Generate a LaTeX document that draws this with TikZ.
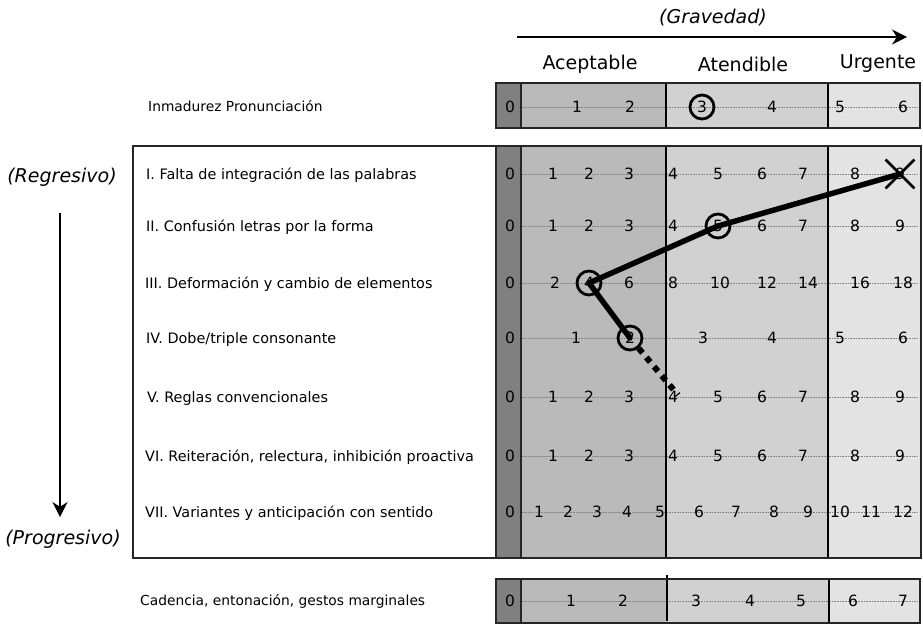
\documentclass[tikz,border=0pt]{standalone}
\usepackage{fontspec}
\setmainfont{DejaVu Sans}
\usetikzlibrary{arrows.meta,shapes.misc}

\definecolor{zerocol}{gray}{0.50}
\definecolor{okaycol}{gray}{0.73}
\definecolor{watchcol}{gray}{0.82}
\definecolor{urgentcol}{gray}{0.89}

\newcommand{\shadebar}[3]{%
  \fill[okaycol] (521,#1) rectangle (666,#2);
  \fill[watchcol] (666,#1) rectangle (828,#2);
  \fill[urgentcol] (828,#1) rectangle (#3,#2);
  \fill[zerocol] (496,#1) rectangle (521,#2);
}

\begin{document}
\begin{tikzpicture}[x=1pt,y=-1pt]
\tikzset{every node/.style={inner sep=1pt,font=\fontsize{15.5}{17}\selectfont}}
\tikzset{head/.style={font=\fontsize{19}{22}\selectfont}}
\tikzset{side/.style={font=\fontsize{19}{22}\selectfont\itshape}}
\tikzset{rowlabel/.style={anchor=west,text height=10pt,text depth=3pt,font=\fontsize{14.4}{16}\selectfont}}
\tikzset{barlabel/.style={rowlabel,font=\fontsize{13.8}{16}\selectfont}}
\tikzset{grid line/.style={densely dotted,black!50,line width=.6pt}}
\tikzset{frame/.style={draw=black!85,line width=1.5pt}}
\tikzset{divider/.style={draw=black,line width=1.2pt}}
\tikzset{hit/.style={circle,draw,line width=2.8pt,minimum size=24pt,inner sep=0pt}}
\tikzset{worst/.style={cross out,draw,line width=2.8pt,minimum size=26pt,inner sep=0pt}}
\tikzset{trend/.style={line width=5.5pt,line join=round,line cap=round}}
\tikzset{trend dots/.style={line width=6pt,dash pattern=on 6pt off 6pt}}
\tikzset{big arrow/.style={line width=1.5pt,-{Stealth[length=15pt,width=15pt]}}}

\useasboundingbox (0,0) rectangle (923,624);

% headings
\node[side] (grav) at (713,18) {(Gravedad)};
\coordinate (g1) at (517,37);
\coordinate (g2) at (907,37);
\draw[big arrow] (g1) -- (g2);
\node[head] (acep) at (590,64) {Aceptable};
\node[head] (aten) at (743,64) {Atendible};
\node[head] (urg) at (878,64) {Urgente};

\node[side] (reg) at (62,177) {(Regresivo)};
\node[side] (prog) at (63,539) {(Progresivo)};
\coordinate (v1) at (60,213);
\coordinate (v2) at (60,517);
\draw[big arrow] (v1) -- (v2);

% top bar
\shadebar{83}{128}{920}
\draw[grid line] (520,107) -- (918,107);
\draw[divider] (666,83) -- (666,128);
\draw[divider] (828,83) -- (828,128);
\draw[frame] (496,83) rectangle (920,128);
\draw[frame] (521,83) -- (521,128);
\node[barlabel] (inm) at (147,108) {Inmadurez Pronunciación};
\foreach \x/\n in {510/0,577/1,630/2,702/3,772/4,840/5,903/6}
  \node (t-\n) at (\x,107) {\n};

% main bar
\shadebar{146}{558}{921}
\foreach \y in {174,226,283,338,397,456,512}
  \draw[grid line] (520,\y) -- (918,\y);
\draw[divider] (666,146) -- (666,558);
\draw[divider] (828,146) -- (828,558);
\draw[frame] (133,146) rectangle (921,558);
\draw[frame] (496,146) -- (496,558);
\draw[frame] (521,146) -- (521,558);

\node[rowlabel] (l1) at (145,176) {I. Falta de integración de las palabras};
\node[rowlabel] (l2) at (145,228) {II. Confusión letras por la forma};
\node[rowlabel] (l3) at (144,285) {III. Deformación y cambio de elementos};
\node[rowlabel] (l4) at (145,340) {IV. Dobe/triple consonante};
\node[rowlabel] (l5) at (146,399) {V. Reglas convencionales};
\node[rowlabel] (l6) at (144,458) {VI. Reiteración, relectura, inhibición proactiva};
\node[rowlabel] (l7) at (144,514) {VII. Variantes y anticipación con sentido};

\foreach \x/\n in {510/0,553/1,589/2,629/3,673/4,718/5,762/6,803/7,855/8,900/9}{
  \node (a-\n) at (\x,174) {\n};
  \node (b-\n) at (\x,226) {\n};
  \node (e-\n) at (\x,397) {\n};
  \node (f-\n) at (\x,456) {\n};
}
\foreach \x/\n in {510/0,555/2,589/4,629/6,673/8,720/10,767/12,808/14,860/16,903/18}
  \node (c-\n) at (\x,283) {\n};
\foreach \x/\n in {510/0,576/1,630/2,703/3,772/4,840/5,903/6}
  \node (d-\n) at (\x,338) {\n};
\foreach \x/\n in {510/0,539/1,568/2,597/3,627/4,660/5,699/6,736/7,774/8,808/9,840/10,871/11,903/12}
  \node (g-\n) at (\x,512) {\n};

% bottom bar
\shadebar{579}{623}{920}
\draw[grid line] (520,601) -- (918,601);
\draw[divider] (667,575) -- (667,621);
\draw[divider] (829,579) -- (829,622);
\draw[frame] (496,579) rectangle (920,623);
\draw[frame] (521,579) -- (521,623);
\node[barlabel] (cad) at (139,602) {Cadencia, entonación, gestos marginales};
\foreach \x/\n in {510/0,571/1,623/2,696/3,750/4,801/5,853/6,903/7}
  \node (h-\n) at (\x,601) {\n};

% profile
\node[hit] (c0) at (t-3) {};
\node[worst] (x1) at (a-9) {};
\node[hit] (c2) at (b-5) {};
\node[hit] (c3) at (c-4) {};
\node[hit] (c4) at (d-2) {};
\coordinate (d1) at (678,395);
\draw[trend] (x1.center) -- (c2.center) -- (c3.center) -- (c4.center);
\draw[trend dots] (c4) -- (d1);

\end{tikzpicture}
\end{document}
